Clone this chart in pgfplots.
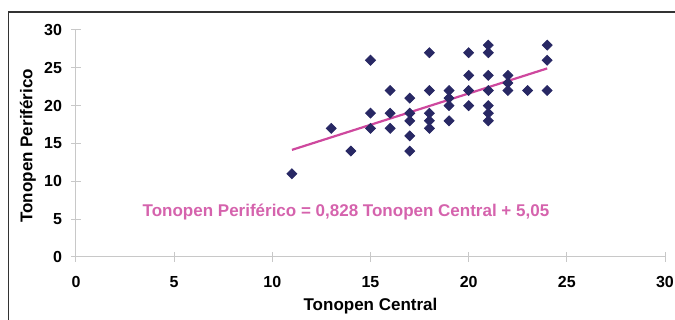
\documentclass[border=0pt]{standalone}
\usepackage{fontspec}
\setmainfont{Liberation Sans}
\usepackage{pgfplots}
\pgfplotsset{compat=1.18}
\definecolor{navy}{RGB}{40,40,100}
\definecolor{pinkline}{RGB}{206,72,158}
\definecolor{axgray}{RGB}{200,200,200}
\begin{document}
\begin{tikzpicture}
\begin{axis}[
  at={(0,0)}, anchor=south west,
  scale only axis, width=294.5pt, height=113.5pt,
  xmin=0, xmax=30, ymin=0, ymax=30,
  xtick={0,5,...,30}, ytick={0,5,...,30},
  axis x line*=bottom, axis y line*=left,
  axis line style={axgray, line width=0.5pt},
  tick style={axgray, line width=0.5pt},
  tick align=center, major tick length=5pt,
  /pgf/number format/assume math mode=true,
  ticklabel style={font=\fontsize{8}{9}\selectfont\bfseries, text=black},
  xticklabel style={yshift=-3.5pt},
  yticklabel style={xshift=-1pt},
  xlabel={Tonopen Central},
  ylabel={Tonopen Periférico},
  every axis x label/.style={at={([yshift=-24.5pt]axis cs:15,0)}, anchor=center, font=\fontsize{8.5}{10}\selectfont\bfseries},
  every axis y label/.style={at={([xshift=-24pt]axis cs:0,14.7)}, anchor=center, rotate=90, font=\fontsize{8.5}{10}\selectfont\bfseries},
  clip=false,
]
\addplot[only marks, mark=square*, mark size=1.75pt, color=navy,
  mark options={rotate=45, fill=navy, draw=navy}] coordinates {
(11,11) (13,17) (14,14) (15,26) (15,19) (15,17) (16,22) (16,19) (16,17)
(17,21) (17,19) (17,18) (17,16) (17,14) (18,27) (18,22) (18,19) (18,18) (18,17)
(19,22) (19,21) (19,20) (19,18) (20,27) (20,24) (20,22) (20,20)
(21,28) (21,27) (21,24) (21,22) (21,20) (21,19) (21,18)
(22,24) (22,23) (22,22) (23,22) (24,28) (24,26) (24,22)
};
\addplot[pinkline, line width=1.1pt, no marks] coordinates {(11,14.158) (24,24.922)};
\node[text=pinkline!85, font=\fontsize{8.5}{10}\selectfont\bfseries, anchor=center] at (axis cs:13.75,5.9) {Tonopen Periférico = 0,828 Tonopen Central + 5,05};
\end{axis}
\pgfresetboundingbox
\useasboundingbox (-38pt,-31.5pt) rectangle (299.5pt,128.5pt);
\draw[black!80, line width=0.6pt] (-33.9pt,-60pt) -- (-33.9pt,122.5pt) -- (330pt,122.5pt);
\end{tikzpicture}
\end{document}
